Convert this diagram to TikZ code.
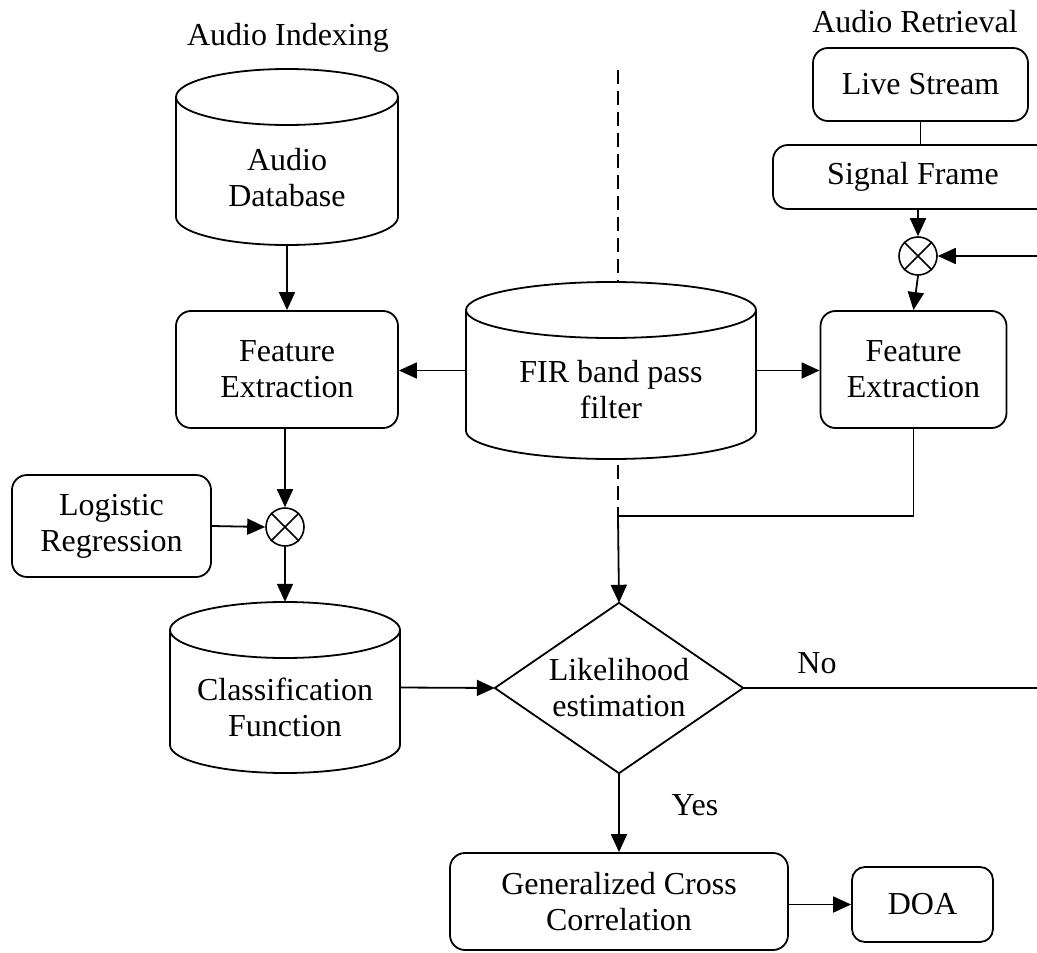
\documentclass[tikz,border=0pt]{standalone}
\usepackage{fontspec}
\setmainfont{Liberation Serif}
\usetikzlibrary{arrows.meta}
\begin{document}
\begin{tikzpicture}[x=1pt,y=1pt,
  every node/.style={font=\fontsize{32pt}{36pt}\selectfont},
  rbox/.style={draw, line width=1.8pt, rounded corners=15pt, align=center, inner sep=0pt},
  anch/.style={draw=none, inner sep=0pt, align=center},
  cylpath/.style={line width=1.8pt},
  arr/.style={line width=1.8pt, -{Triangle[length=18pt,width=16pt]}},
  plainline/.style={line width=1.4pt},
  dashline/.style={line width=1.9pt, dash pattern=on 14pt off 7pt},
  mult/.style={circle, draw, line width=1.6pt, minimum size=38pt, inner sep=0pt},
  lbl/.style={inner sep=0pt, align=center}
]
\useasboundingbox (0,0) rectangle (1037,-953);
\clip (0,0) rectangle (1037,-953);

% titles
\node[lbl] (tidx) at (288,-38) {Audio Indexing};
\node[lbl] (tret) at (915,-22) {Audio Retrieval};

% Audio Database cylinder
\node[anch, minimum width=222pt, minimum height=176pt] (db) at (287,-157) {};
\draw[cylpath] (176,-97) -- (176,-217) arc[start angle=180,end angle=360,x radius=111pt,y radius=28pt] -- (398,-97);
\draw[cylpath] (287,-97) ellipse[x radius=111pt, y radius=28pt];
\node[lbl] (dbt) at (287,-178) {Audio\\Database};

% FIR cylinder
\node[anch, minimum width=290pt, minimum height=177pt] (fir) at (611,-370.5) {};
\draw[cylpath] (466,-310) -- (466,-431) arc[start angle=180,end angle=360,x radius=145pt,y radius=28pt] -- (756,-310);
\draw[cylpath] (611,-310) ellipse[x radius=145pt, y radius=28pt];
\node[lbl] (firt) at (611,-390) {FIR band pass\\filter};

% Classification cylinder
\node[anch, minimum width=230pt, minimum height=171pt] (cf) at (285,-687.5) {};
\draw[cylpath] (170,-630) -- (170,-745) arc[start angle=180,end angle=360,x radius=115pt,y radius=28pt] -- (400,-630);
\draw[cylpath] (285,-630) ellipse[x radius=115pt, y radius=28pt];
\node[lbl] (cft) at (285,-707) {Classification\\Function};

% boxes
\node[rbox, minimum width=222pt, minimum height=117pt] (fe1) at (287,-369.5) {Feature\\Extraction};
\node[rbox, minimum width=186pt, minimum height=117pt] (fe2) at (913.5,-369.5) {Feature\\Extraction};
\node[rbox, minimum width=215pt, minimum height=73pt] (ls) at (920.5,-84.5) {Live Stream};
\node[rbox, minimum width=280pt, minimum height=64pt] (sf) at (913,-177) {Signal Frame};
\node[rbox, minimum width=199pt, minimum height=102pt] (lr) at (111.5,-526) {Logistic\\Regression};
\node[rbox, minimum width=338pt, minimum height=97pt] (gcc) at (619,-901.5) {Generalized Cross\\Correlation};
\node[rbox, rounded corners=13pt, minimum width=141pt, minimum height=75pt] (doa) at (922.5,-904.5) {DOA};

% multipliers
\node[mult] (m2) at (918,-256) {};
\draw[line width=1.6pt] (m2.45) -- (m2.225) (m2.135) -- (m2.315);
\node[mult] (m1) at (285,-527) {};
\draw[line width=1.6pt] (m1.45) -- (m1.225) (m1.135) -- (m1.315);

% decision diamond
\node[anch, minimum width=248pt, minimum height=170pt] (d) at (619,-688) {Likelihood\\estimation};
\draw[line width=1.8pt] (d.north) -- (d.east) -- (d.south) -- (d.west) -- cycle;

% connectors
\draw[arr] (db.south) -- (fe1.north);
\draw[arr] (fir.west) -- (fir.west -| fe1.east);
\draw[arr] (fir.east) -- (fir.east -| fe2.west);

\coordinate (top) at (618,-70);
\draw[dashline] (top) -- (top |- fir.north);
\coordinate (junc) at (618,-516);
\coordinate (firb) at ([yshift=-6pt]fir.south);
\draw[dashline] (junc |- firb) -- (junc);
\draw[plainline] (fe2.south) |- (junc);
\draw[arr] (junc) -- (d.north);

\draw[plainline] (ls.south) -- (ls.south |- sf.north);
\draw[arr] (m2.north |- sf.south) -- (m2.north);
\coordinate (rin) at (1037,-256);
\draw[arr] (rin) -- (m2.east);
\draw[arr] (m2.south) -- (fe2.north);

\draw[arr] (m1.north |- fe1.south) -- (m1.north);
\draw[arr] (lr.east) -- (m1.west);
\draw[arr] (m1.south) -- (cf.north);
\draw[arr] (cf.east) -- (d.west);

\coordinate (rno) at (1037,-688);
\draw[plainline] (d.east) -- (rno);
\node[lbl] (no) at (817,-663) {No};
\draw[arr] (d.south) -- (gcc.north);
\node[lbl] (yes) at (695,-805) {Yes};
\draw[arr] (gcc.east |- doa.west) -- (doa.west);
\end{tikzpicture}
\end{document}
